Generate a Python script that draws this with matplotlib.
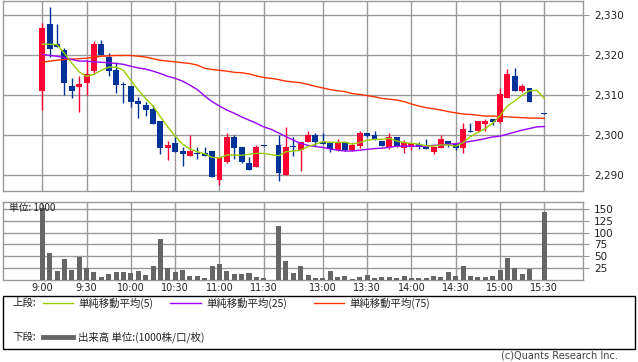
import numpy as np
import matplotlib
matplotlib.use("Agg")
import matplotlib.pyplot as plt
from matplotlib.lines import Line2D

nan = np.nan
# slot 31 = lunch break separator, slot 67 = 15:25 (closing auction, no trades)
opens = [2311.0, 2327.7, 2322.8, 2321.2, 2312.2, 2312.1, 2313.1, 2316.1, 2322.7, 2319.5,
         2316.2, 2312.9, 2312.2, 2308.5, 2307.5, 2306.5, 2303.5, 2296.9, 2298.2, 2296.1,
         2294.9, 2295.6, 2295.7, 2296.1, 2288.9, 2293.4, 2299.7, 2297.1, 2293.2, 2292.0,
         2297.6, nan, 2297.6, 2290.1, 2297.2, 2296.3, 2298.4, 2300.1, 2298.4, 2298.0,
         2296.3, 2298.4, 2296.3, 2297.4, 2300.5, 2300.1, 2298.6, 2297.0, 2299.7, 2296.9,
         2297.2, 2297.8, 2297.2, 2295.8, 2296.9, 2298.6, 2297.8, 2296.9, 2301.1, 2301.0,
         2302.8, 2304.0, 2303.4, 2309.3, 2314.7, 2311.0, 2311.8, nan, 2305.6]
highs = [2328.0, 2332.1, 2327.7, 2321.8, 2314.3, 2314.7, 2318.7, 2323.5, 2323.7, 2320.6,
         2318.2, 2313.2, 2312.2, 2309.6, 2308.4, 2307.5, 2303.5, 2298.6, 2299.8, 2297.0,
         2300.1, 2297.0, 2297.2, 2296.1, 2294.7, 2300.5, 2300.1, 2297.1, 2294.5, 2297.6,
         2297.6, nan, 2300.1, 2302.1, 2299.7, 2298.4, 2301.1, 2300.6, 2300.6, 2298.0,
         2299.0, 2298.4, 2298.0, 2301.1, 2300.5, 2301.1, 2298.6, 2300.5, 2299.7, 2298.8,
         2298.2, 2298.4, 2299.0, 2297.2, 2300.1, 2298.6, 2297.8, 2303.0, 2303.0, 2303.6,
         2304.0, 2304.0, 2311.7, 2316.6, 2316.9, 2312.7, 2311.8, nan, 2305.6]
lows = [2306.3, 2319.5, 2322.0, 2310.0, 2309.3, 2305.9, 2310.0, 2315.2, 2320.0, 2314.7,
        2310.6, 2308.0, 2307.0, 2304.4, 2304.8, 2302.9, 2295.4, 2293.9, 2295.9, 2292.4,
        2294.9, 2294.0, 2294.9, 2289.5, 2287.5, 2293.0, 2294.0, 2293.0, 2291.4, 2292.0,
        2297.4, nan, 2288.5, 2290.1, 2294.9, 2291.0, 2298.4, 2297.4, 2297.8, 2295.9,
        2296.0, 2296.0, 2296.0, 2296.9, 2299.5, 2298.8, 2297.3, 2296.5, 2297.0, 2295.7,
        2296.3, 2296.5, 2296.5, 2295.3, 2296.9, 2297.0, 2296.3, 2295.5, 2300.9, 2300.9,
        2301.0, 2302.6, 2303.0, 2309.3, 2311.0, 2310.8, 2308.4, nan, 2305.4]
closes = [2326.7, 2321.4, 2322.0, 2313.1, 2311.1, 2312.7, 2315.2, 2322.7, 2320.0, 2316.1,
          2312.5, 2312.6, 2308.4, 2307.9, 2306.3, 2302.9, 2296.9, 2297.6, 2295.9, 2295.4,
          2296.1, 2295.4, 2294.9, 2289.5, 2294.7, 2299.7, 2296.9, 2293.4, 2291.4, 2297.1,
          2297.4, nan, 2290.5, 2297.2, 2297.0, 2298.4, 2300.1, 2298.4, 2297.8, 2296.6,
          2298.4, 2296.3, 2297.6, 2300.5, 2299.8, 2298.8, 2297.3, 2299.7, 2297.3, 2298.4,
          2298.0, 2297.2, 2296.5, 2297.2, 2299.1, 2297.8, 2296.9, 2301.6, 2300.9, 2303.6,
          2303.6, 2303.4, 2310.2, 2315.2, 2311.1, 2312.2, 2308.4, nan, 2305.4]
volume = [152, 57, 19, 44, 21, 49, 24.6, 17, 6.3, 12.7,
          17, 17, 14.8, 19, 10.6, 29.6, 87, 25.4, 17, 21,
          9.2, 9.2, 4.9, 29.6, 33.8, 19, 12.7, 12.7, 14.8, 7,
          4.2, nan, 114, 40, 14.8, 29.6, 10.6, 4.2, 4.2, 19,
          6.3, 8.5, 2, 6.3, 10.6, 4.2, 6.3, 6.3, 4.2, 8.5,
          4.2, 4.2, 4.2, 8.5, 6.3, 17, 8.5, 29.6, 8.5, 6.3,
          6.3, 8.5, 21, 46.5, 25.4, 12.7, 23.3, nan, 143.6]
sma5 = [2322.7, 2322.7, 2322.6, 2320.4, 2318.0, 2315.8, 2314.7, 2315.2, 2316.2, 2317.0,
        2317.0, 2316.2, 2313.7, 2311.3, 2309.2, 2307.3, 2304.6, 2302.1, 2299.8, 2297.8,
        2296.6, 2295.9, 2295.4, 2294.5, 2294.4, 2295.1, 2295.1, 2295.0, 2295.3, 2295.5,
        2295.5, 2295.2, 2294.9, 2295.9, 2296.1, 2296.3, 2297.2, 2297.8, 2298.4, 2298.3,
        2298.2, 2298.3, 2297.8, 2298.2, 2298.8, 2299.0, 2299.0, 2299.2, 2298.6, 2298.2,
        2298.0, 2297.8, 2297.4, 2297.3, 2297.6, 2297.6, 2297.3, 2298.2, 2299.7, 2300.7,
        2301.7, 2303.0, 2304.9, 2307.3, 2308.6, 2310.0, 2311.1, 2311.2, 2309.2]
sma25 = [2320.2, 2319.9, 2319.7, 2319.4, 2318.9, 2318.5, 2318.5, 2318.3, 2318.2, 2318.1,
         2317.9, 2317.7, 2317.2, 2316.8, 2316.5, 2316.0, 2315.4, 2314.7, 2314.2, 2313.5,
         2312.5, 2311.4, 2309.8, 2308.4, 2307.3, 2306.3, 2305.5, 2304.6, 2303.8, 2303.0,
         2302.1, 2301.5, 2300.6, 2299.7, 2298.8, 2298.0, 2297.5, 2297.2, 2297.0, 2296.6,
         2296.3, 2296.1, 2296.1, 2296.3, 2296.5, 2296.7, 2296.8, 2297.0, 2297.3, 2297.3,
         2297.3, 2297.3, 2297.3, 2297.5, 2297.6, 2297.8, 2297.9, 2298.2, 2298.5, 2298.8,
         2299.2, 2299.6, 2299.8, 2300.3, 2300.8, 2301.3, 2301.7, 2302.1, 2302.2]
sma75 = [2318.2, 2318.5, 2318.7, 2318.9, 2319.0, 2319.1, 2319.2, 2319.5, 2319.7, 2319.8,
         2319.9, 2319.9, 2319.9, 2319.7, 2319.5, 2319.1, 2318.7, 2318.5, 2318.3, 2318.1,
         2317.9, 2317.5, 2316.7, 2316.4, 2316.2, 2316.0, 2315.7, 2315.6, 2315.3, 2314.8,
         2314.4, 2314.2, 2313.9, 2313.5, 2313.3, 2313.1, 2312.7, 2312.2, 2311.8, 2311.4,
         2311.1, 2310.9, 2310.4, 2310.2, 2309.9, 2309.6, 2309.2, 2309.0, 2308.8, 2308.4,
         2307.8, 2307.3, 2306.9, 2306.6, 2306.3, 2305.9, 2305.6, 2305.3, 2305.2, 2305.0,
         2304.8, 2304.8, 2304.7, 2304.6, 2304.5, 2304.4, 2304.3, 2304.3, 2304.2]
xtick_slots = [0, 6, 12, 18, 24, 30, 38, 44, 50, 56, 62, 68]
xtick_labels = ["9:00", "9:30", "10:00", "10:30", "11:00", "11:30",
                "13:00", "13:30", "14:00", "14:30", "15:00", "15:30"]
price_ticks = [2290, 2300, 2310, 2320, 2330]
vol_ticks = [25, 50, 75, 100, 125, 150]

plt.rcParams['font.family'] = ['DejaVu Sans', 'Noto Sans CJK JP']
JP = ['Noto Sans CJK JP', 'DejaVu Sans']

W, H = 638, 362
fig = plt.figure(figsize=(W / 100, H / 100), dpi=100)
fig.patch.set_facecolor('white')

def px_axes(x0, y0, x1, y1):
    return fig.add_axes([x0 / W, 1 - y1 / H, (x1 - x0) / W, (y1 - y0) / H])

GRID = '#999999'
RED = '#ff0033'
BLUE = '#003399'
TXT = '#222222'

axp = px_axes(3.3, 0.5, 582.7, 190.7)
axv = px_axes(3.3, 202.3, 582.7, 280.0)

x = np.arange(len(opens))
O = np.array(opens); Hh = np.array(highs); L = np.array(lows); C = np.array(closes)
valid = ~np.isnan(O)
up = valid & (C >= O)
dn = valid & (C < O)

for ax in (axp, axv):
    ax.set_xlim(-5.28, 73.2)
    for s in ax.spines.values():
        s.set_color(GRID)
        s.set_linewidth(1.0)
    ax.set_xticks(xtick_slots)
    ax.grid(True, color=GRID, linewidth=1.0)
    ax.set_axisbelow(True)
    ax.yaxis.tick_right()
    ax.tick_params(axis='y', which='both', length=4, color=GRID, labelsize=7.5,
                   labelcolor=TXT, pad=4, direction='out')
    ax.tick_params(axis='x', length=0)

# price panel
axp.set_ylim(2286.2, 2333.6)
axp.set_yticks(price_ticks)
axp.set_yticklabels([f"{v:,}" for v in price_ticks])
axp.set_xticklabels([])

for mask, col in ((up, RED), (dn, BLUE)):
    axp.vlines(x[mask], L[mask], Hh[mask], color=col, linewidth=1.0, zorder=3)
    h = np.abs(C[mask] - O[mask])
    h = np.maximum(h, 0.25)
    axp.bar(x[mask], h, bottom=np.minimum(O[mask], C[mask]), width=0.8,
            color=col, linewidth=0, zorder=3)

axp.plot(x, sma75, color='#ff3300', linewidth=1.0, zorder=4)
axp.plot(x, sma25, color='#9900ff', linewidth=1.0, zorder=4)
axp.plot(x, sma5, color='#99cc00', linewidth=1.0, zorder=4)

# volume panel
V = np.array(volume)
axv.set_ylim(0, 164)
axv.set_yticks(vol_ticks)
axv.set_yticklabels([str(v) for v in vol_ticks])
axv.bar(x[valid], V[valid], width=0.68, color='#666666', linewidth=0, zorder=3)
axv.set_xticklabels(xtick_labels)
axv.tick_params(axis='x', labelsize=7, labelcolor=TXT, pad=2)
axv.text(8 / (582.7 - 3.3) * 0 + 0.009, 0.93, "単位: 1000", transform=axv.transAxes,
         fontsize=7, color=TXT, family=JP, va='center', ha='left', zorder=5)

# legend box
fig.patches.append(plt.Rectangle((3 / W, 1 - 349 / H), (635 - 3) / W, (349 - 296) / H,
                                 transform=fig.transFigure, fill=False,
                                 edgecolor='#000000', linewidth=1.0))

def fx(px): return px / W
def fy(py): return 1 - py / H

row1, row2 = 303, 337
fig.text(fx(12), fy(row1), "上段:", fontsize=7.5, family=JP, va='center', color=TXT)
fig.text(fx(12), fy(row2), "下段:", fontsize=7.5, family=JP, va='center', color=TXT)
legend_items = [(43, 73, '#99cc00', "単純移動平均(5)"),
                (170, 201, '#9900ff', "単純移動平均(25)"),
                (314, 344, '#ff3300', "単純移動平均(75)")]
for x0, x1, col, lab in legend_items:
    fig.add_artist(Line2D([fx(x0), fx(x1)], [fy(row1), fy(row1)], color=col,
                          linewidth=1.0, transform=fig.transFigure))
    fig.text(fx(x1 + 5), fy(row1), lab, fontsize=7.5, family=JP, va='center', color=TXT)
fig.add_artist(Line2D([fx(43), fx(73)], [fy(row2), fy(row2)], color='#666666',
                      linewidth=3.5, transform=fig.transFigure))
fig.text(fx(78), fy(row2), "出来高 単位:(1000株/口/枚)", fontsize=7.5, family=JP,
         va='center', color=TXT)
fig.text(fx(618), fy(356), "(c)Quants Research Inc.", fontsize=7, ha='right',
         va='center', color='#444444')

fig.savefig("out.png", dpi=100, facecolor='white')
